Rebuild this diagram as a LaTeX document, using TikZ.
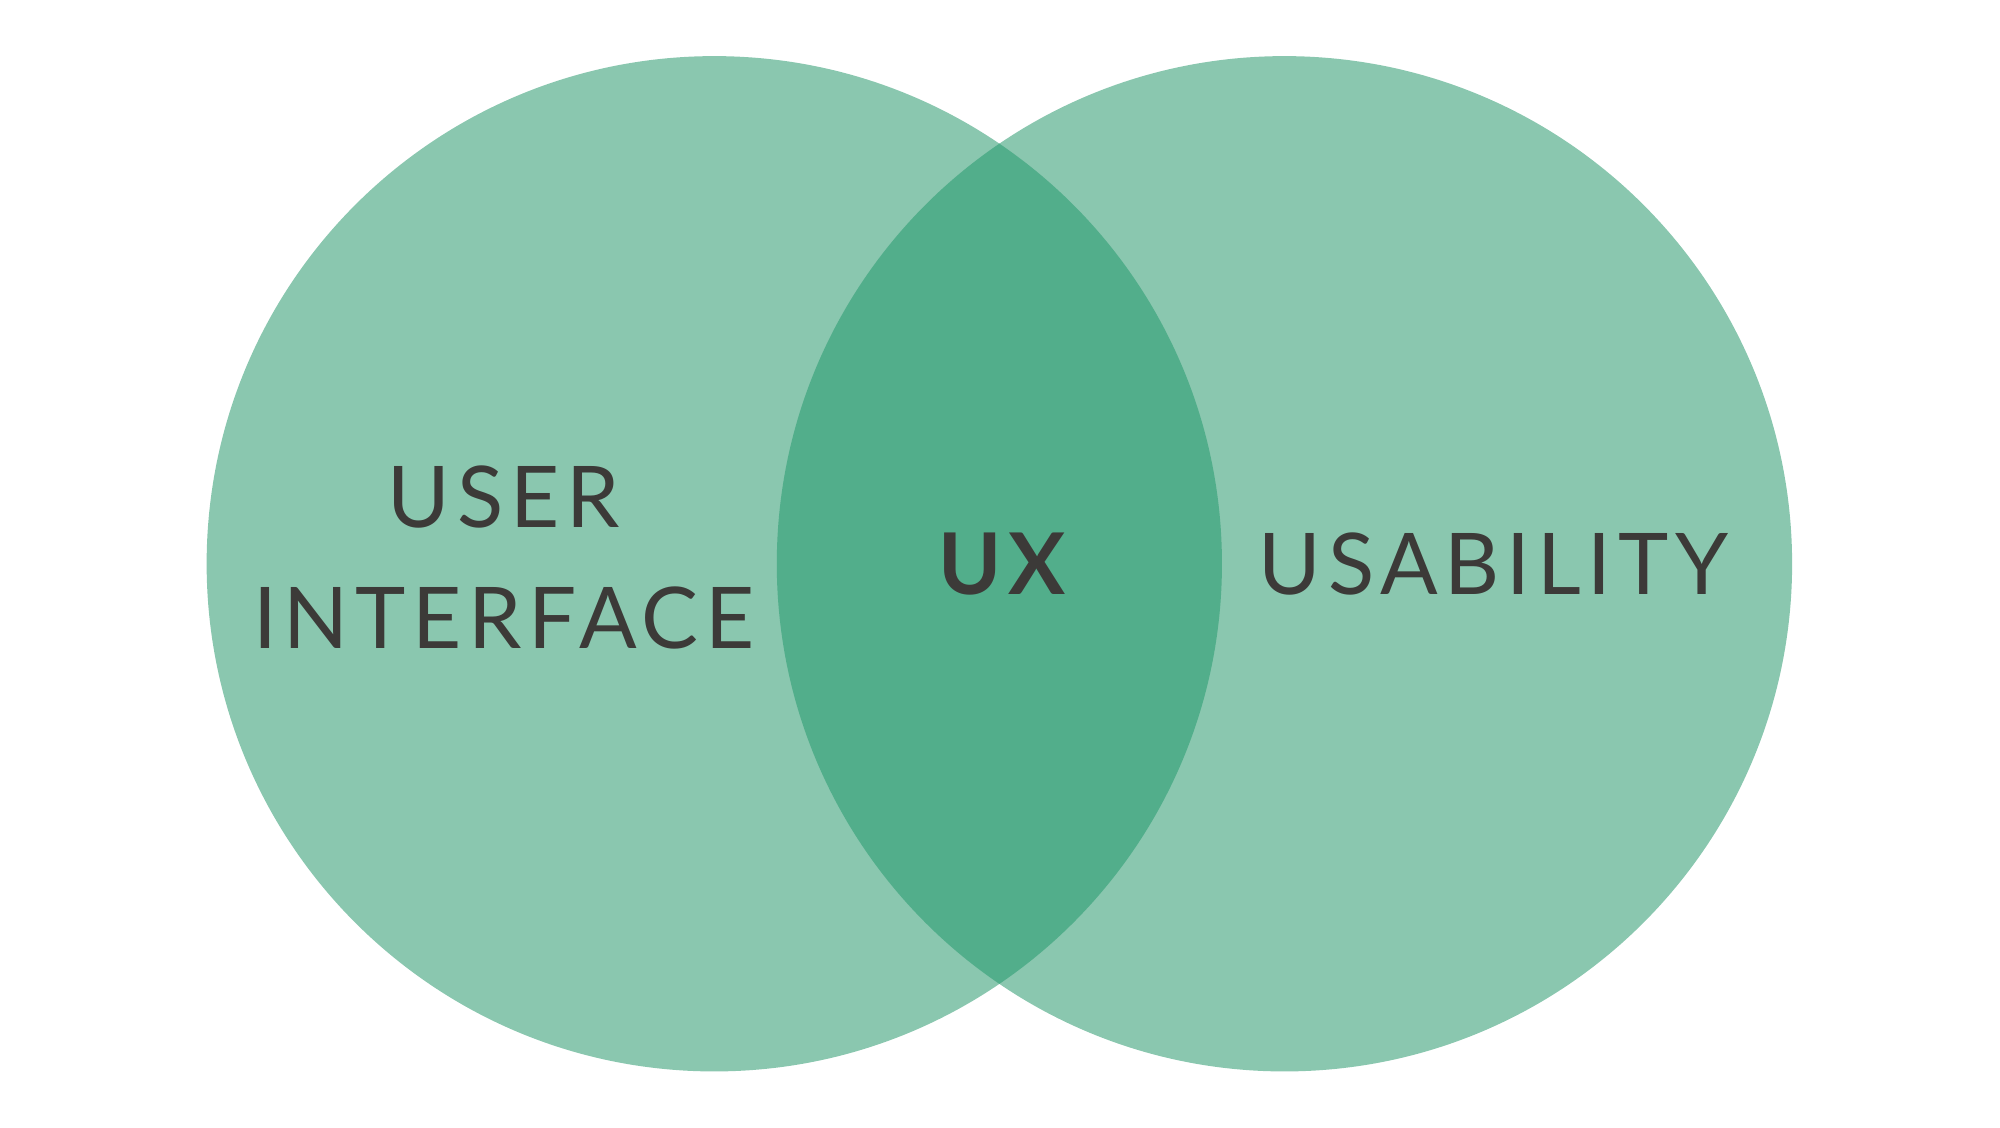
\documentclass[tikz,border=0pt]{standalone}
\usepackage{fontspec}
\setmainfont{Lato}[LetterSpace=8]
\definecolor{lightgreen}{HTML}{8AC7AF}
\definecolor{darkgreen}{HTML}{52AE8B}
\definecolor{textgray}{HTML}{3C3A38}
\begin{document}
\begin{tikzpicture}[y=-1cm,
	label text/.style={text=textgray,font=\fontsize{19}{27}\selectfont,align=center}]
	\def\R{3.98} % radius of both circles
	\useasboundingbox (0,0) rectangle (15.68,8.84);
	
	\fill[lightgreen] (5.60,4.42) circle (\R);
	\fill[lightgreen] (10.07,4.42) circle (\R);
	\begin{scope}
		\clip (5.60,4.42) circle (\R);
		\fill[darkgreen] (10.07,4.42) circle (\R);
	\end{scope}
	
	\node[label text] (ui) at (3.95,4.37) {USER\\INTERFACE};
	\node[label text,font=\fontsize{19}{27}\selectfont\bfseries] (ux) at (7.86,4.42) {UX};
	\node[label text] (us) at (11.71,4.42) {USABILITY};
\end{tikzpicture}
\end{document}
